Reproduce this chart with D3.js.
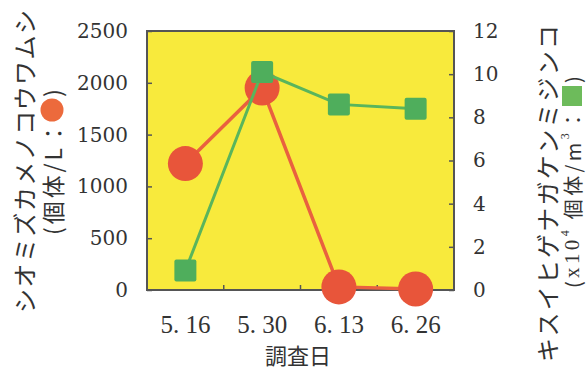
<!DOCTYPE html>
<html><head><meta charset="utf-8">
<script src="https://cdn.jsdelivr.net/npm/d3@7"></script>
<style>
html,body{margin:0;padding:0;background:#fff;}
svg{display:block;}
</style></head>
<body>
<svg id="c" width="587" height="371"></svg>
<script>
const categories = ["5.16", "5.30", "6.13", "6.26"];
const rotiferValues = [1220, 1950, 30, 10];      // 個体/L (left axis)
const copepodValues = [0.9, 10.1, 8.6, 8.4];     // x10^4 個体/m3 (right axis)
const leftTicks = [0, 500, 1000, 1500, 2000, 2500];
const rightTicks = [0, 2, 4, 6, 8, 10, 12];
const xTitle = "調査日";
const leftTitle1 = "シオミズカメノコウワムシ";
const rightTitle1 = "キスイヒゲナガケンミジンコ";

const svg = d3.select("#c");
const L = 147, R = 454, T = 31, B = 290;
const RED = "#e8553a", RED_LINE = "#e9613f", GREEN = "#4fae5c", GREEN_LINE = "#5ab55c";
const ink = "#333";

const x = d3.scaleBand().domain(categories).range([L, R]).padding(0);
const yL = d3.scaleLinear().domain([0, 2500]).range([B, T]);
const yR = d3.scaleLinear().domain([0, 12]).range([B, T]);

// plot background
svg.append("rect").attr("x", L).attr("y", T).attr("width", R - L).attr("height", B - T)
  .attr("fill", "#f8ea3c");

// axes
const numFont = "DejaVu Serif, serif";
const ga = svg.append("g").attr("transform", `translate(${L},0)`)
  .call(d3.axisLeft(yL).tickValues(leftTicks).tickFormat(d3.format("d"))
    .tickSizeInner(-5).tickSizeOuter(0).tickPadding(19));
const gb = svg.append("g").attr("transform", `translate(${R},0)`)
  .call(d3.axisRight(yR).tickValues(rightTicks).tickFormat(d3.format("d"))
    .tickSizeInner(-5).tickSizeOuter(0).tickPadding(19));
const gx = svg.append("g").attr("transform", `translate(0,${B})`)
  .call(d3.axisBottom(x).tickSize(0).tickPadding(25).tickFormat(d => d.replace(".", ". ")));
[ga, gb, gx].forEach(g => {
  g.select(".domain").remove();
  g.attr("font-family", numFont).attr("font-size", 20);
  g.selectAll("line").attr("stroke", "#555").attr("stroke-width", 1.5);
  g.selectAll("text").attr("fill", ink);
});
gx.attr("font-family", "Liberation Serif, serif").attr("font-size", 25);

// bottom separator ticks (between categories), pointing inward
svg.append("g").selectAll("line").data(categories.slice(1)).join("line")
  .attr("x1", d => x(d)).attr("x2", d => x(d)).attr("y1", B).attr("y2", B - 5)
  .attr("stroke", "#555").attr("stroke-width", 1.5);

// border
svg.append("rect").attr("x", L).attr("y", T).attr("width", R - L).attr("height", B - T)
  .attr("fill", "none").attr("stroke", "#555").attr("stroke-width", 2);

const cx = d => x(d) + x.bandwidth() / 2;

// red series (rotifer)
const redData = categories.map((c, i) => ({c, v: rotiferValues[i]}));
svg.append("path").datum(redData)
  .attr("d", d3.line().x(d => cx(d.c)).y(d => yL(d.v)))
  .attr("fill", "none").attr("stroke", RED_LINE).attr("stroke-width", 3.5);
svg.append("g").selectAll("circle").data(redData).join("circle")
  .attr("cx", d => cx(d.c)).attr("cy", d => yL(d.v)).attr("r", 17.5).attr("fill", RED);

// green series (copepod)
const greenData = categories.map((c, i) => ({c, v: copepodValues[i]}));
svg.append("path").datum(greenData)
  .attr("d", d3.line().x(d => cx(d.c)).y(d => yR(d.v)))
  .attr("fill", "none").attr("stroke", GREEN_LINE).attr("stroke-width", 3);
const S = 22;
svg.append("g").selectAll("rect").data(greenData).join("rect")
  .attr("x", d => cx(d.c) - S / 2).attr("y", d => yR(d.v) - S / 2)
  .attr("width", S).attr("height", S).attr("rx", 2).attr("fill", GREEN);

// x title
const cjk = "Noto Sans CJK JP, sans-serif";
svg.append("text").attr("x", 298).attr("y", 364).attr("text-anchor", "middle")
  .attr("fill", ink).attr("font-family", cjk).attr("font-size", 22).text(xTitle);

// left title
const lt = svg.append("g").attr("transform", "translate(23,0) rotate(-90)");
lt.append("text").attr("x", -313).attr("y", 0).attr("dominant-baseline", "central")
  .attr("textLength", 303).attr("lengthAdjust", "spacing")
  .attr("fill", ink).attr("font-family", cjk).attr("font-size", 24).text(leftTitle1);
const lt2 = svg.append("g").attr("transform", "translate(52,0) rotate(-90)");
lt2.append("text").attr("x", -235).attr("y", 0).attr("dominant-baseline", "central")
  .attr("textLength", 113).attr("lengthAdjust", "spacing")
  .attr("fill", ink).attr("font-family", cjk).attr("font-size", 23).text("(個体/L：");
lt2.append("circle").attr("cx", -110).attr("cy", 0).attr("r", 11.5).attr("fill", "#ec6a3c");
lt2.append("text").attr("x", -97).attr("y", 0).attr("dominant-baseline", "central")
  .attr("fill", ink).attr("font-family", cjk).attr("font-size", 23).text(")");

// right title
const rt = svg.append("g").attr("transform", "translate(546,0) rotate(-90)");
rt.append("text").attr("x", -362).attr("y", 0).attr("dominant-baseline", "central")
  .attr("textLength", 337).attr("lengthAdjust", "spacing")
  .attr("fill", ink).attr("font-family", cjk).attr("font-size", 24).text(rightTitle1);
const rt2 = svg.append("g").attr("transform", "translate(572,0) rotate(-90)");
const t2 = rt2.append("text").attr("x", -288).attr("y", 0).attr("dominant-baseline", "central")
  .attr("textLength", 178).attr("lengthAdjust", "spacing")
  .attr("fill", ink).attr("font-family", cjk).attr("font-size", 20);
t2.append("tspan").text("(");
t2.append("tspan").attr("font-family", "Liberation Serif, serif").attr("font-size", 21).text("x10");
t2.append("tspan").attr("dy", -7).attr("font-size", 12).attr("font-family", "Liberation Serif, serif").text("4");
t2.append("tspan").attr("dy", 7).text(" 個体/m");
t2.append("tspan").attr("dy", -7).attr("font-size", 12).attr("font-family", "Liberation Serif, serif").text("3");
t2.append("tspan").attr("dy", 7).text("：");
rt2.append("rect").attr("x", -106).attr("y", -10).attr("width", 20).attr("height", 20).attr("fill", "#6dbb5b");
rt2.append("text").attr("x", -83).attr("y", 0).attr("dominant-baseline", "central")
  .attr("fill", ink).attr("font-family", cjk).attr("font-size", 20).text(")");
</script>
</body></html>
